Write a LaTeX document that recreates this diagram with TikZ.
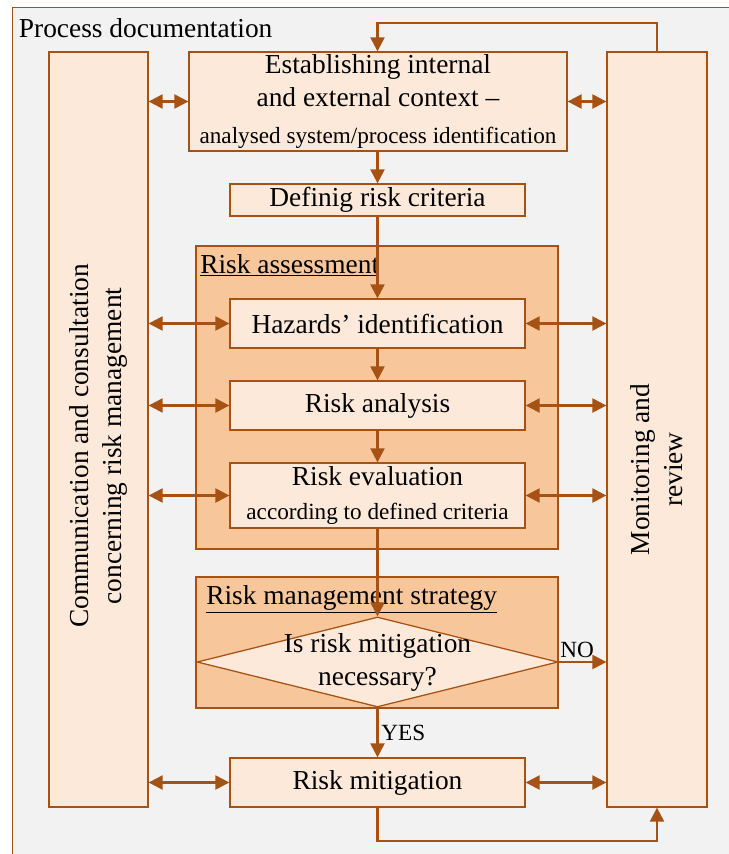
\documentclass[tikz,border=0pt]{standalone}
\usepackage{fontspec}
\setmainfont{Liberation Serif}
\usetikzlibrary{shapes.geometric, arrows.meta, positioning, calc}

\definecolor{riskline}{RGB}{165,82,20}
\definecolor{riskfill}{RGB}{252,233,218}
\definecolor{groupfill}{RGB}{248,198,155}
\definecolor{docfill}{RGB}{242,242,242}
\newcommand{\bigtxt}{\fontsize{19.5}{23.5}\selectfont}
\newcommand{\smalltxt}{\fontsize{16.5}{20}\selectfont}

\begin{document}
\begin{tikzpicture}[
    stage/.style={rectangle, draw=riskline, line width=0.9pt, fill=riskfill, align=center, inner sep=0pt, font=\bigtxt, minimum width=7.375cm},
    column/.style={rectangle, draw=riskline, line width=0.9pt, fill=riskfill, minimum height=18.875cm},
    group/.style={rectangle, draw=riskline, line width=0.9pt, fill=groupfill, minimum width=9.05cm},
    arrow/.style={draw=riskline, line width=1.6pt, -{Triangle[length=10pt,width=10pt]}},
    twoway/.style={draw=riskline, line width=1.6pt, {Triangle[length=10pt,width=10pt]}-{Triangle[length=10pt,width=10pt]}}
]
\useasboundingbox (0,0) rectangle (18.2,-21.35);

% Process documentation frame
\node[rectangle, draw=riskline, line width=0.8pt, fill=docfill, anchor=north west, minimum width=18.4cm, minimum height=21.4cm] (frame) at (0.29,-0.18) {};
\node[anchor=base west, inner sep=0pt, font=\bigtxt] (doc) at (0.465,-0.925) {Process documentation};

% Side columns
\node[column, minimum width=2.475cm, label={[yshift=-0.41cm, rotate=90, align=center, font=\bigtxt]center:Communication and consultation\\concerning risk management}] (comm) at (2.4625,-10.7375) {};
\node[column, minimum width=2.5cm, label={[yshift=-1.0cm, rotate=90, align=center, font=\bigtxt]center:Monitoring and\\review}] (monitor) at (16.425,-10.7375) {};

% Groups
\node[group, minimum height=7.575cm] (assess) at (9.425,-9.9375) {};
\node[anchor=base west, inner sep=0pt, font=\bigtxt] (assesslabel) at (5.0,-6.825) {\underline{Risk assessment}};
\node[group, minimum height=3.275cm] (strategy) at (9.425,-16.0625) {};
\node[anchor=base west, inner sep=0pt, font=\bigtxt] (strategylabel) at (5.15,-15.1) {\underline{Risk management strategy}};

% Process steps
\node[stage, minimum width=9.45cm, minimum height=2.475cm] (context) at (9.45,-2.5375) {Establishing internal\\and external context --\\[3pt]{\smalltxt analysed system/process identification}};
\node[stage, minimum height=0.8cm] (criteria) at (9.4375,-5.0) {Definig risk criteria};
\node[stage, minimum height=1.225cm] (hazards) at (9.4375,-8.0875) {Hazards' identification};
\node[stage, minimum height=1.225cm] (analysis) at (9.4375,-10.1375) {Risk analysis};
\node[stage, minimum height=1.625cm] (evaluation) at (9.4375,-12.3875) {Risk evaluation\\{\smalltxt according to defined criteria}};
\node[diamond, draw=riskline, line width=0.9pt, fill=riskfill, inner sep=0pt, minimum width=9.025cm, minimum height=2.25cm, label={[align=center, font=\bigtxt]center:Is risk mitigation\\necessary?}] (decision) at (9.4375,-16.55) {};
\node[stage, minimum height=1.225cm] (mitigation) at (9.4375,-19.5625) {Risk mitigation};

% Main flow
\draw[arrow] (context.south -| criteria.north) -- (criteria.north);
\draw[arrow] (criteria) -- (hazards);
\draw[arrow] (hazards) -- (analysis);
\draw[arrow] (analysis) -- (evaluation);
\draw[arrow] (evaluation) -- (decision);
\draw[arrow] (decision) -- node[right, inner sep=2pt, font=\smalltxt] {YES} (mitigation);
\draw[arrow] (decision.east) -- node[pos=0, anchor=south west, inner xsep=0.5pt, inner ysep=2pt, font=\smalltxt] {NO} (monitor.west |- decision.east);

% Feedback loops
\draw[arrow] (monitor.north) -- ++(0,0.7) -| (context.north -| criteria.north);
\draw[arrow] (mitigation.south) -- ++(0,-0.825) -| (monitor.south);

% Communication and monitoring links
\draw[twoway] (comm.east |- context.west) -- (context.west);
\draw[twoway] (context.east) -- (monitor.west |- context.east);
\foreach \step in {hazards, analysis, evaluation, mitigation} {
  \draw[twoway] (comm.east |- \step.west) -- (\step.west);
  \draw[twoway] (\step.east) -- (monitor.west |- \step.east);
}

\end{tikzpicture}
\end{document}
